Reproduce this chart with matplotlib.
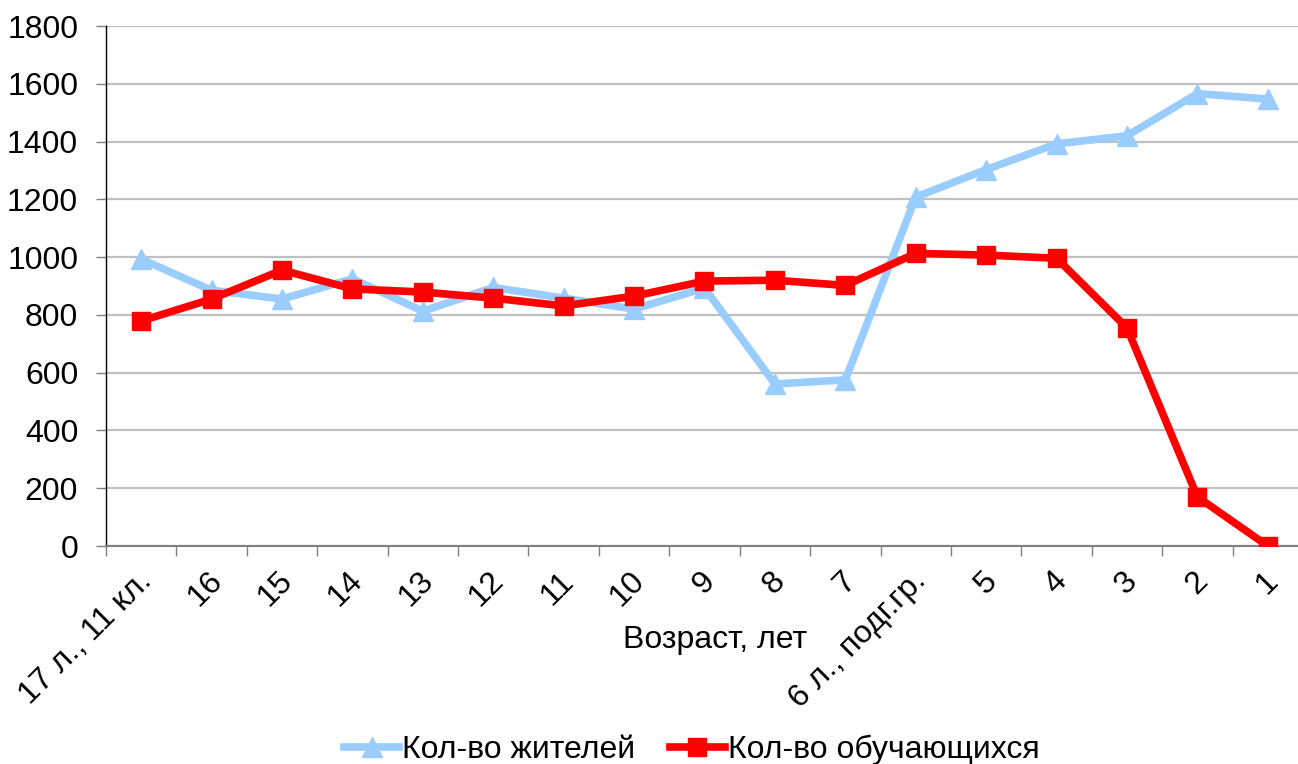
import matplotlib
matplotlib.use("Agg")
import matplotlib.pyplot as plt
import matplotlib.transforms as mtransforms
import numpy as np

categories = ["17 л., 11 кл.", "16", "15", "14", "13", "12", "11", "10", "9", "8", "7",
              "6 л., подг.гр.", "5", "4", "3", "2", "1"]
residents = [993, 885, 855, 925, 813, 895, 858, 820, 893, 561, 575, 1208, 1303, 1392, 1420, 1566, 1547]
students = [779, 855, 955, 890, 879, 858, 831, 865, 917, 920, 902, 1013, 1007, 996, 755, 170, 0]
yticks = [0, 200, 400, 600, 800, 1000, 1200, 1400, 1600, 1800]

plt.rcParams['font.family'] = ['Liberation Sans', 'DejaVu Sans']
FS = 23

fig = plt.figure(figsize=(12.98, 7.64), dpi=100)
ax = fig.add_axes([106/1298, 218/764, (1303-106)/1298, 520/764])

x = np.arange(len(categories))
ax.plot(x, residents, color='#99CCFF', lw=5.5, marker='^', ms=15, mec='#99CCFF',
        mfc='#99CCFF', label='Кол-во жителей', zorder=3, solid_joinstyle='round')
ax.plot(x, students, color='#FF0000', lw=5.5, marker='s', ms=13, mec='#FF0000',
        mfc='#FF0000', label='Кол-во обучающихся', zorder=4, solid_joinstyle='round')

ax.set_xlim(-0.5, len(categories) - 0.5)
ax.set_ylim(0, 1800)
ax.set_yticks(yticks)
ax.set_yticklabels([str(v) for v in yticks], fontsize=FS)
ax.yaxis.grid(True, color='#C0C0C0', lw=1.6)
ax.set_axisbelow(True)

ax.set_xticks(np.arange(len(categories) + 1) - 0.5)
ax.set_xticklabels([])
ax.set_xticks(x, minor=True)
ax.set_xticklabels(categories, minor=True, rotation=45, ha='right', va='center',
                   rotation_mode='anchor', fontsize=FS)
ax.tick_params(axis='x', which='minor', length=0, pad=22)
ax.tick_params(axis='x', which='major', length=7, width=1, color='#808080', direction='out')
ax.tick_params(axis='y', length=7, width=1, color='#808080', direction='out', pad=13)

offset = mtransforms.ScaledTranslation(6/100, 0, fig.dpi_scale_trans)
for lab in ax.xaxis.get_minorticklabels():
    lab.set_transform(lab.get_transform() + offset)

for s in ['top', 'right']:
    ax.spines[s].set_visible(False)
ax.spines['left'].set_color('#000000')
ax.spines['left'].set_linewidth(1)
ax.spines['bottom'].set_color('#808080')
ax.spines['bottom'].set_linewidth(1.5)

fig.text(715/1298, 1 - 640/764, 'Возраст, лет', ha='center', va='center', fontsize=FS)

fig.legend(loc='center', bbox_to_anchor=(692/1298, 1 - 750/764), ncol=2, frameon=False,
           fontsize=FS, handlelength=1.7, handletextpad=0.1, columnspacing=1.1)

fig.savefig('out.png', dpi=100)
